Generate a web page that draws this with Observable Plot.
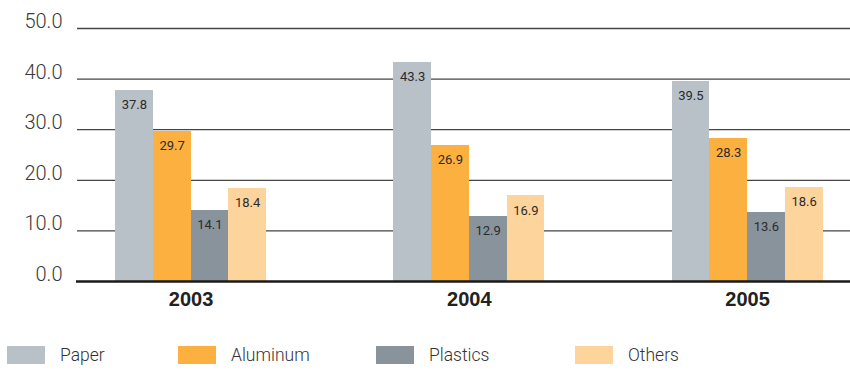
<!DOCTYPE html>
<html>
<head>
<meta charset="utf-8">
<script src="https://cdn.jsdelivr.net/npm/d3@7"></script>
<script src="https://cdn.jsdelivr.net/npm/@observablehq/plot@0.6"></script>
<style>
  html, body { margin: 0; padding: 0; background: #fff; }
  #chart { width: 850px; font-family: "Liberation Sans", Arial, sans-serif; }
  #chart svg { display: block; }
  .legend { position: relative; height: 40px; margin-top: 16px; font-family: Roboto, "Liberation Sans", sans-serif; font-weight: 300; font-size: 17.5px; color: #333; }
  .legend .item { position: absolute; top: 0; display: flex; align-items: center; height: 18px; }
  .legend .sw { width: 38px; height: 18px; margin-right: 15px; }
</style>
</head>
<body>
<div id="chart"></div>
<script>
// Share of recycled material by year (%)
const years = [2003, 2004, 2005];
const materials = ["Paper", "Aluminum", "Plastics", "Others"];
const paper = [37.8, 43.3, 39.5];
const aluminum = [29.7, 26.9, 28.3];
const plastics = [14.1, 12.9, 13.6];
const others = [18.4, 16.9, 18.6];
const colors = ["#b8c0c8", "#fbb040", "#89939c", "#fdd49b"];
const yTicks = [0, 10, 20, 30, 40, 50];

const series = [paper, aluminum, plastics, others];
const rows = [];
years.forEach((year, yi) => {
  materials.forEach((material, mi) => {
    rows.push({year, material, mi, value: series[mi][yi]});
  });
});

// Each group is centred on its year; bars sit side by side within it
const bw = 0.1357;
const left = d => d.year + (d.mi - 2) * bw;

const chart = Plot.plot({
  width: 850,
  height: 330,
  marginLeft: 77,
  marginRight: 0,
  marginTop: 28,
  marginBottom: 49,
  x: {type: "linear", domain: [2002.592, 2005.37], axis: null},
  y: {domain: [0, 50], axis: null},
  color: {domain: materials, range: colors},
  marks: [
    Plot.ruleY(yTicks.filter(t => t > 0), {stroke: "#454545", strokeWidth: 1.3}),
    Plot.rectY(rows, {
      x1: left,
      x2: d => left(d) + bw,
      y1: 0,
      y2: "value",
      fill: "material",
      shapeRendering: "crispEdges"
    }),
    Plot.text(rows, {
      x: d => left(d) + bw / 2,
      y: "value",
      text: d => d.value.toFixed(1),
      dy: 14.5,
      fontSize: 13,
      fill: "#2b2b2b",
      fontFamily: "Roboto, 'Liberation Sans', sans-serif"
    }),
    Plot.ruleY([0], {stroke: "#1a1a1a", strokeWidth: 2.5, insetLeft: -1}),
    Plot.text(yTicks, {
      y: d => d,
      frameAnchor: "left",
      text: d => d.toFixed(1),
      textAnchor: "end",
      dx: -15,
      dy: -7,
      fontSize: 20,
      fontWeight: 300,
      fill: "#3a3a3a",
      fontFamily: "Roboto, 'Liberation Sans', sans-serif"
    }),
    Plot.text(years, {
      x: d => d,
      y: 0,
      text: d => String(d),
      dy: 18,
      fontSize: 20,
      fontWeight: "bold",
      fill: "#222",
      fontFamily: "'Liberation Sans', Arial, sans-serif"
    })
  ]
});

const root = document.getElementById("chart");
root.appendChild(chart);

// Legend below the plot
const legendX = [7, 178, 376, 575];
const legend = document.createElement("div");
legend.className = "legend";
materials.forEach((m, i) => {
  const item = document.createElement("div");
  item.className = "item";
  item.style.left = legendX[i] + "px";
  const sw = document.createElement("span");
  sw.className = "sw";
  sw.style.background = colors[i];
  const label = document.createElement("span");
  label.textContent = m;
  item.appendChild(sw);
  item.appendChild(label);
  legend.appendChild(item);
});
root.appendChild(legend);
</script>
</body>
</html>
